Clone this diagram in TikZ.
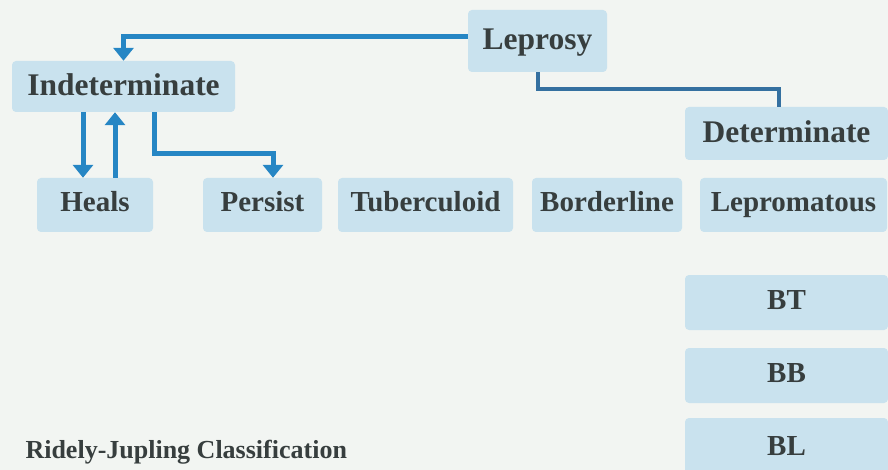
\documentclass[tikz,border=0pt]{standalone}
\usepackage{fontspec}
\setmainfont{Liberation Serif}
\usetikzlibrary{arrows.meta}

\definecolor{fundo}{RGB}{242,245,242}
\definecolor{azulcaixa}{RGB}{201,226,238}
\definecolor{azulseta}{RGB}{38,134,196}
\definecolor{azullinha}{RGB}{52,112,160}
\definecolor{cinzatexto}{RGB}{55,62,62}

\begin{document}
\begin{tikzpicture}[x=1pt, y=-1pt,
    caixa/.style={fill=azulcaixa, rounded corners=4pt, inner sep=0pt, text=cinzatexto,
        text height=20pt, text depth=7pt, font=\bfseries\fontsize{29}{34}\selectfont},
    grande/.style={text height=25pt, font=\bfseries\fontsize{31.5}{36}\selectfont},
    seta/.style={draw=azulseta, line width=5pt, -{Triangle[width=20pt,length=13pt]}},
]

    % 1. Fundo da página (levemente acinzentado) e recorte da figura
    \fill[fundo] (0,0) rectangle (888,470);
    \useasboundingbox (0,0) rectangle (888,470);
    \clip (0,0) rectangle (888,470);

    % 2. Caixas do topo: Leprosy e as duas formas principais
    \node[caixa, grande, minimum width=139, minimum height=62] (lep) at (537.5,41) {Leprosy};
    \node[caixa, grande, minimum width=223, minimum height=51] (ind) at (123.5,86.5) {Indeterminate};
    \node[caixa, grande, minimum width=203, minimum height=53] (det) at (786.5,133.5) {Determinate};

    % 3. Linha de caixas (desfechos e tipos determinados)
    \node[caixa, minimum width=116, minimum height=54] (hea) at (95,205) {Heals};
    \node[caixa, minimum width=119, minimum height=54] (per) at (262.5,205) {Persist};
    \node[caixa, minimum width=175, minimum height=54] (tub) at (425.5,205) {Tuberculoid};
    \node[caixa, minimum width=150, minimum height=54] (bor) at (607,205) {Borderline};
    \node[caixa, minimum width=187, minimum height=54] (lpm) at (793.5,205) {Lepromatous};

    % 4. Subgrupos borderline (a última caixa sai pela borda inferior)
    \node[caixa, minimum width=203, minimum height=55] (bt) at (786.5,302.5) {BT};
    \node[caixa, minimum width=203, minimum height=55] (bb) at (786.5,375.5) {BB};
    \node[caixa, minimum width=203, minimum height=62] (bl) at (786.5,449) {BL};

    % 5. Conectores
    \draw[seta] ([yshift=4]lep.west) -| (ind.north);
    \draw[azullinha, line width=4pt] (lep.south) -- ++(0,17) -| ([xshift=-8]det.north);
    \draw[seta] ([xshift=-12]hea.north |- ind.south) -- ([xshift=-12]hea.north);
    \draw[seta] ([xshift=20]hea.north) -- ([xshift=20]hea.north |- ind.south);
    \draw[seta] ([xshift=30.5]ind.south) -- ++(0,41) -| ([xshift=10.5]per.north);

    % 6. Legenda
    \node[anchor=west, text=cinzatexto, font=\bfseries\fontsize{26}{30}\selectfont] (leg) at (22,452) {Ridely-Jupling Classification};

\end{tikzpicture}
\end{document}
